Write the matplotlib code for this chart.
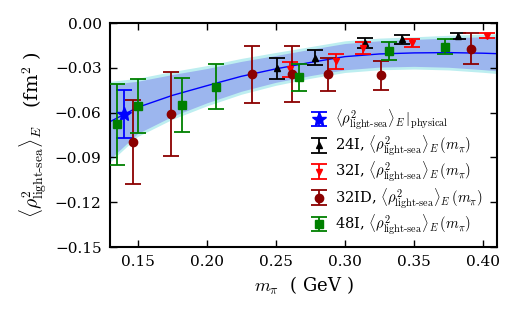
import matplotlib
matplotlib.use("Agg")
import matplotlib.pyplot as plt

plt.rcParams['font.family'] = ['DejaVu Serif']
plt.rcParams['mathtext.fontset'] = 'cm'

# fit curve and error band
fit_m = [0.13, 0.15, 0.175, 0.20, 0.225, 0.25, 0.275, 0.30, 0.325, 0.35, 0.375, 0.40, 0.41]
fit_v = [-0.0661, -0.0565, -0.0485, -0.0420, -0.0357, -0.0307, -0.0264, -0.0225,
         -0.0207, -0.0200, -0.0198, -0.0202, -0.0205]
band_in = [0.025, 0.0175, 0.014, 0.0115, 0.010, 0.009, 0.0088, 0.0088,
           0.0088, 0.009, 0.0098, 0.011, 0.0115]
band_out = [0.027, 0.0195, 0.016, 0.0135, 0.012, 0.011, 0.0106, 0.0106,
            0.0106, 0.0108, 0.0116, 0.0128, 0.0133]

# physical point
phys_m = [0.1399]
phys_v = [-0.0611]
phys_e = [0.016]

# 24I
m_24I = [0.2507, 0.2781, 0.3145, 0.3413, 0.382]
v_24I = [-0.0303, -0.0232, -0.0135, -0.0109, -0.0087]
e_24I = [0.007, 0.005, 0.0035, 0.003, 0.0022]

# 32I
m_32I = [0.2603, 0.2933, 0.3133, 0.3489, 0.4031]
v_32I = [-0.031, -0.0255, -0.0165, -0.0132, -0.0085]
e_32I = [0.005, 0.005, 0.004, 0.0027, 0.0018]

# 32ID
m_32ID = [0.1469, 0.1741, 0.2329, 0.2615, 0.2875, 0.3261, 0.3916]
v_32ID = [-0.0795, -0.061, -0.0344, -0.0342, -0.0344, -0.035, -0.0172]
e_32ID = [0.028, 0.028, 0.019, 0.019, 0.011, 0.0098, 0.0103]

# 48I
m_48I = [0.1353, 0.1502, 0.182, 0.2069, 0.2666, 0.3316, 0.3721]
v_48I = [-0.0678, -0.0554, -0.0547, -0.0427, -0.0364, -0.0185, -0.0159]
e_48I = [0.027, 0.018, 0.018, 0.015, 0.0093, 0.006, 0.005]

rho = r'\langle \rho^2_{\text{light-sea}}\rangle_E'

fig = plt.figure(figsize=(5.16, 3.2), dpi=100)
ax = fig.add_axes([0.213, 0.228, 0.750, 0.700])

lo_out = [v - b for v, b in zip(fit_v, band_out)]
hi_out = [v + b for v, b in zip(fit_v, band_out)]
lo_in = [v - b for v, b in zip(fit_v, band_in)]
hi_in = [v + b for v, b in zip(fit_v, band_in)]
ax.fill_between(fit_m, lo_out, hi_out, color='#bdeef0', lw=0, zorder=1)
ax.fill_between(fit_m, lo_in, hi_in, color='#9cb6ee', lw=0, zorder=1)
ax.plot(fit_m, fit_v, color='blue', lw=1, zorder=2)

kw = dict(ls='none', capsize=5.5, elinewidth=1.3, capthick=1.3, zorder=3)
ax.errorbar(phys_m, phys_v, yerr=phys_e, fmt='*', color='blue', ms=10,
            label='$' + rho + r'\,|_{\rm physical}$', **kw)
ax.errorbar(m_24I, v_24I, yerr=e_24I, fmt='^', color='black', ms=5,
            label='24I, $' + rho + r'\,(m_\pi)$', **kw)
ax.errorbar(m_32I, v_32I, yerr=e_32I, fmt='v', color='red', ms=5,
            label='32I, $' + rho + r'\,(m_\pi)$', **kw)
ax.errorbar(m_32ID, v_32ID, yerr=e_32ID, fmt='o', color='#8b0000', ms=6,
            label='32ID, $' + rho + r'\,(m_\pi)$', **kw)
ax.errorbar(m_48I, v_48I, yerr=e_48I, fmt='s', color='green', ms=6,
            label='48I, $' + rho + r'\,(m_\pi)$', **kw)

ax.set_xlim(0.13, 0.41)
ax.set_ylim(-0.15, 0.0)
ax.set_xticks([0.15, 0.20, 0.25, 0.30, 0.35, 0.40])
ax.set_yticks([0.0, -0.03, -0.06, -0.09, -0.12, -0.15])
ax.set_yticklabels(['0.00', '−0.03', '−0.06', '−0.09', '−0.12', '−0.15'])
ax.tick_params(direction='in', top=True, right=True, length=5, width=1,
               labelsize=11, pad=6)
for s in ax.spines.values():
    s.set_linewidth(1.5)

ax.set_xlabel(r'$m_\pi$  ( GeV )', fontsize=13)
ax.set_ylabel('$' + rho + r'$   (fm$^2$ )', fontsize=14)

ax.legend(loc='lower right', frameon=False, fontsize=10.5, numpoints=1,
          handlelength=1.0, handletextpad=0.6, labelspacing=0.12,
          borderaxespad=0.3, bbox_to_anchor=(0.99, 0.0))

fig.savefig('out.png', dpi=100)
